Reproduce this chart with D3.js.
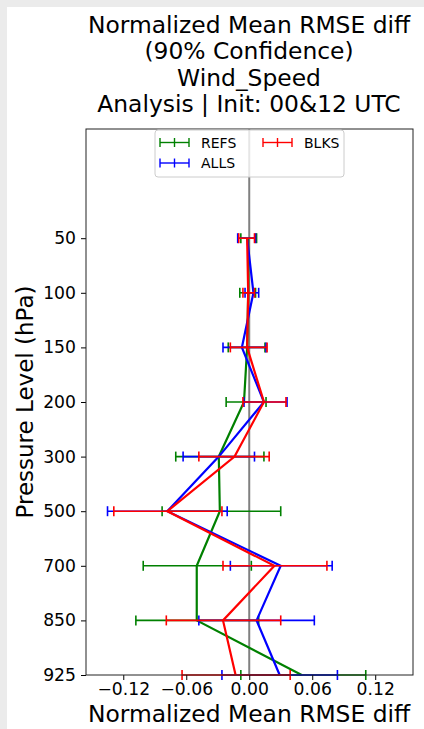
<!DOCTYPE html>
<html>
<head>
<meta charset="utf-8">
<script src="https://cdn.jsdelivr.net/npm/d3@7"></script>
<style>
  html, body { margin: 0; padding: 0; background: #ebebeb; }
  svg { display: block; }
  text { font-family: "DejaVu Sans", sans-serif; fill: #000; }
</style>
</head>
<body>
<svg id="chart" width="424" height="729"></svg>
<script>
// Pressure levels (hPa), top of the profile first
const levels = [50, 100, 150, 200, 300, 500, 700, 850, 925];

// Normalized mean RMSE difference per level, with 90% confidence bounds
const refsMean = [-0.001, -0.001, -0.002, -0.005, -0.029, -0.028, -0.050, -0.050, 0.050];
const refsLow  = [-0.008, -0.009, -0.020, -0.022, -0.070, -0.083, -0.101, -0.108, -0.008];
const refsHigh = [ 0.007,  0.006,  0.015,  0.016,  0.014,  0.030,  0.002,  0.009, 0.111];

const allsMean = [-0.002,  0.004, -0.007,  0.014, -0.029, -0.078,  0.030,  0.007, 0.029];
const allsLow  = [-0.011, -0.004, -0.025, -0.005, -0.063, -0.135, -0.018, -0.048, -0.026];
const allsHigh = [ 0.006,  0.009,  0.016,  0.036,  0.005, -0.021,  0.079,  0.062, 0.084];

const blksMean = [-0.002, -0.001, -0.002,  0.014, -0.014, -0.078,  0.024, -0.025, -0.013];
const blksLow  = [-0.010, -0.006, -0.018, -0.006, -0.048, -0.129, -0.025, -0.079, -0.064];
const blksHigh = [ 0.005,  0.005,  0.017,  0.035,  0.019, -0.026,  0.074,  0.030, 0.039];

const xTicks = [-0.12, -0.06, 0.00, 0.06, 0.12];

const titleLines = [
  "Normalized Mean RMSE diff",
  "(90% Confidence)",
  "Wind_Speed",
  "Analysis | Init: 00&12 UTC"
];

const series = [
  { name: "REFS", color: "#008000", mean: refsMean, low: refsLow, high: refsHigh },
  { name: "ALLS", color: "#0000ff", mean: allsMean, low: allsLow, high: allsHigh },
  { name: "BLKS", color: "#ff0000", mean: blksMean, low: blksLow, high: blksHigh }
];

const svg = d3.select("#chart");

// white figure area
svg.append("rect").attr("x", 7).attr("y", 7).attr("width", 417).attr("height", 722).attr("fill", "#fff");

const plotLeft = 86, plotRight = 413, plotTop = 129, plotBottom = 675;

const x = d3.scaleLinear().domain([-0.1555, 0.156]).range([plotLeft, plotRight]);
// level index on a linear axis; two empty slots above 50 hPa leave room for the legend
const y = d3.scaleLinear().domain([-2, levels.length - 1]).range([plotTop, plotBottom]);

// title
const title = svg.append("g").attr("text-anchor", "middle").style("font-size", "23.4px");
titleLines.forEach((t, i) => {
  title.append("text").attr("x", 249).attr("y", 33 + i * 26.3).text(t);
});

// zero reference line
svg.append("line")
  .attr("x1", x(0)).attr("x2", x(0)).attr("y1", plotTop).attr("y2", plotBottom)
  .attr("stroke", "#808080").attr("stroke-width", 2);

// error bars and profiles
const cap = 5;
series.forEach(s => {
  const g = svg.append("g");
  levels.forEach((lv, i) => {
    const yy = y(i);
    g.append("line").attr("x1", x(s.low[i])).attr("x2", x(s.high[i]))
      .attr("y1", yy).attr("y2", yy).attr("stroke", s.color).attr("stroke-width", 1.6);
    [s.low[i], s.high[i]].forEach(v => {
      g.append("line").attr("x1", x(v)).attr("x2", x(v))
        .attr("y1", yy - cap).attr("y2", yy + cap)
        .attr("stroke", s.color).attr("stroke-width", 1.6);
    });
  });
  const line = d3.line().x(d => x(d[1])).y(d => y(d[0]));
  g.append("path").datum(s.mean.map((v, i) => [i, v]))
    .attr("d", line).attr("fill", "none").attr("stroke", s.color).attr("stroke-width", 2.2);
});

// axes
const xAxis = d3.axisBottom(x).tickValues(xTicks).tickSize(5).tickPadding(3)
  .tickFormat(d => d3.format(".2f")(d).replace("-", "\u2212"));
const gx = svg.append("g").attr("transform", `translate(0,${plotBottom})`).call(xAxis);
gx.select(".domain").remove();
gx.selectAll("line").attr("stroke", "#000").attr("stroke-width", 1);
gx.selectAll("text").style("font-size", "17.2px").style("font-family", "DejaVu Sans");

const yAxis = d3.axisLeft(y).tickValues(d3.range(levels.length)).tickSize(5).tickPadding(5)
  .tickFormat(i => levels[i]);
const gy = svg.append("g").attr("transform", `translate(${plotLeft},0)`).call(yAxis);
gy.select(".domain").remove();
gy.selectAll("line").attr("stroke", "#000").attr("stroke-width", 1);
gy.selectAll("text").style("font-size", "17.2px").style("font-family", "DejaVu Sans");

// frame
svg.append("rect").attr("x", plotLeft).attr("y", plotTop)
  .attr("width", plotRight - plotLeft).attr("height", plotBottom - plotTop)
  .attr("fill", "none").attr("stroke", "#222").attr("stroke-width", 1);

// axis labels
svg.append("text").attr("x", 249).attr("y", 722).attr("text-anchor", "middle")
  .style("font-size", "23.4px").text("Normalized Mean RMSE diff");
svg.append("text").attr("transform", `translate(33,${(plotTop + plotBottom) / 2}) rotate(-90)`)
  .attr("text-anchor", "middle").style("font-size", "23px").text("Pressure Level (hPa)");

// legend
const lg = svg.append("g");
lg.append("rect").attr("x", 155).attr("y", 130).attr("width", 189).attr("height", 47).attr("rx", 3)
  .attr("fill", "#fff").attr("fill-opacity", 0.8).attr("stroke", "#cccccc").attr("stroke-width", 1);
const legendPos = [[160, 142.5], [160, 163], [263, 142.5]];
series.forEach((s, k) => {
  const [lx, ly] = legendPos[k];
  const h = lg.append("g").attr("stroke", s.color).attr("stroke-width", 1.4);
  h.append("line").attr("x1", lx).attr("x2", lx + 29).attr("y1", ly).attr("y2", ly);
  [lx, lx + 14.5, lx + 29].forEach(tx => {
    h.append("line").attr("x1", tx).attr("x2", tx).attr("y1", ly - 4.5).attr("y2", ly + 4.5);
  });
  lg.append("text").attr("x", lx + 41).attr("y", ly).attr("dy", "0.36em")
    .style("font-size", "14px").text(s.name);
});
</script>
</body>
</html>
